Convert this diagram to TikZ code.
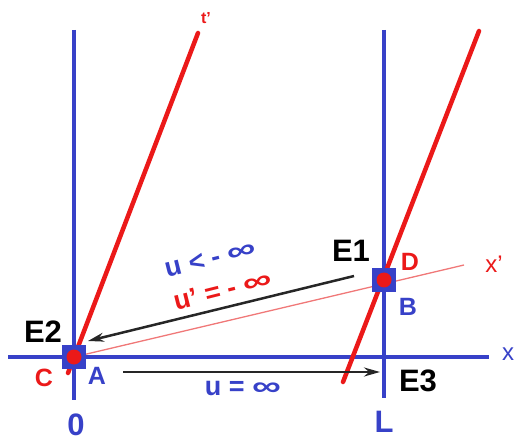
\documentclass[tikz,border=0pt]{standalone}
\usepackage{fontspec}
\setmainfont{Liberation Sans}
\usetikzlibrary{arrows.meta}
\definecolor{axblue}{RGB}{55,65,200}
\definecolor{wlred}{RGB}{235,25,25}
\definecolor{xpink}{RGB}{240,120,120}
\newcommand\infsym{\scalebox{1.5}[1]{∞}}
\tikzset{
  axis/.style={draw=axblue, line width=4pt},
  wline/.style={draw=wlred, line width=4.5pt, line cap=round},
  xpline/.style={draw=xpink, line width=1.3pt},
  signal/.style={draw=black!85, line width=2.5pt, -{Stealth[length=16pt,width=9pt]}},
  event/.style={fill=axblue, minimum size=24pt, inner sep=0pt},
  evdot/.style={circle, fill=wlred, minimum size=15pt, inner sep=0pt},
  elbl/.style={font=\fontsize{31}{31}\selectfont\bfseries, text=black, inner sep=0pt},
  blbl/.style={font=\fontsize{25}{25}\selectfont\bfseries, text=axblue, inner sep=0pt},
  rlbl/.style={font=\fontsize{25}{25}\selectfont\bfseries, text=wlred, inner sep=0pt}
}

\begin{document}
\begin{tikzpicture}[x=1pt, y=-1pt]
  \useasboundingbox (0,0) rectangle (516,443);
  \coordinate (A) at (74,357);
  \coordinate (B) at (384,280);
  \coordinate (ltop) at (74,30);   \coordinate (lbot) at (74,400);
  \coordinate (rtop) at (384,30);  \coordinate (rbot) at (384,398);
  \coordinate (xl) at (8,357);     \coordinate (xr) at (489,357);
  \coordinate (ttop) at (198,33);  \coordinate (tbot) at (68,373);
  \coordinate (dtop) at (479,31);  \coordinate (dbot) at (343,382);
  \coordinate (xpend) at (464,265);
  \coordinate (sigB) at (354,276); \coordinate (sigA) at (88,341);
  \coordinate (sigC) at (123,372); \coordinate (sigE) at (380,372);

  % frame of S
  \draw[xpline] (A) -- (xpend);
  \draw[axis] (ltop) -- (lbot);
  \draw[axis] (rtop) -- (rbot);
  \draw[axis] (xl) -- (xr);
  % moving ends
  \draw[wline] (tbot) -- (ttop);
  \draw[wline] (dbot) -- (dtop);

  \node[event] (evA) at (A) {};
  \node[evdot] (dotA) at (A) {};
  \node[event] (evB) at (B) {};
  \node[evdot] (dotB) at (B) {};

  \draw[signal] (sigB) -- (sigA);
  \draw[signal] (sigC) -- (sigE);

  \node[elbl] (e1) at (351,251) {E1};
  \node[elbl] (e2) at (43,332) {E2};
  \node[elbl] (e3) at (418,381) {E3};
  \node[blbl] (lA) at (97,376) {A};
  \node[blbl] (lB) at (408,307) {B};
  \node[rlbl] (lC) at (44,378) {C};
  \node[rlbl] (lD) at (410,262) {D};
  \node[blbl, font=\fontsize{31}{31}\selectfont\bfseries] (l0) at (76,425) {0};
  \node[blbl, font=\fontsize{31}{31}\selectfont\bfseries] (lL) at (384,422) {L};
  \node[blbl, font=\fontsize{24}{24}\selectfont] (lx) at (508,354) {x};
  \node[rlbl, font=\fontsize{24}{24}\selectfont] (lxp) at (494,264) {x'};
  \node[rlbl, font=\fontsize{16}{16}\selectfont\bfseries] (ltp) at (206,18) {t'};
  \node[blbl, rotate=14, font=\fontsize{27}{27}\selectfont\bfseries] (uneg) at (211,259) {u < - \infsym};
  \node[rlbl, rotate=14, font=\fontsize{27}{27}\selectfont\bfseries] (upneg) at (223,290) {u' = - \infsym};
  \node[blbl, font=\fontsize{27}{27}\selectfont\bfseries] (uinf) at (243,388) {u = \infsym};
\end{tikzpicture}
\end{document}
